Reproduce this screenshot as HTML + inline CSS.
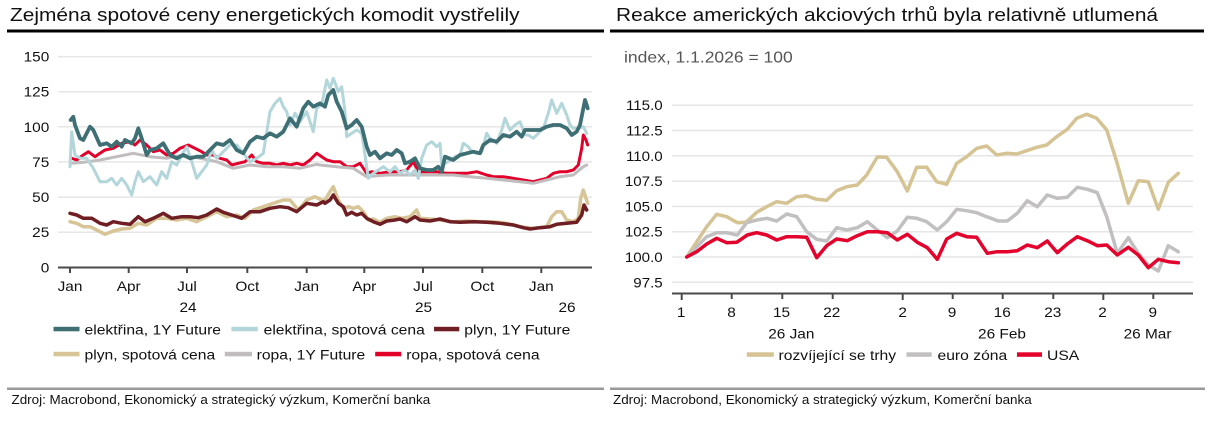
<!DOCTYPE html>
<html>
<head>
<meta charset="utf-8">
<style>
html,body{margin:0;padding:0;background:#fff;}
svg{display:block;}
text{font-family:"Liberation Sans",Arial,sans-serif;fill:#111;}
.t{font-size:14px;}
.lg{font-size:14px;}
.ti{font-size:18.5px;}
.ft{font-size:12.5px;}
.sub{font-size:15.5px;fill:#555;}
.grid{stroke:#e6e6e6;stroke-width:1.5;}
.ax{stroke:#4a4a4a;stroke-width:2;}
polyline{fill:none;stroke-linejoin:round;stroke-linecap:round;}
</style>
</head>
<body>
<svg width="1216" height="428" viewBox="0 0 1216 428" xmlns="http://www.w3.org/2000/svg">
<rect width="1216" height="428" fill="#fff"/>

<!-- ===== LEFT CHART ===== -->
<text class="ti" transform="translate(10,21) scale(1.13,1)">Zejména spotové ceny energetických komodit vystřelily</text>
<rect x="7" y="29.5" width="597" height="3" fill="#000"/>

<!-- grid -->
<line class="grid" x1="58" y1="56.6" x2="592" y2="56.6"/>
<line class="grid" x1="58" y1="91.7" x2="592" y2="91.7"/>
<line class="grid" x1="58" y1="126.8" x2="592" y2="126.8"/>
<line class="grid" x1="58" y1="161.9" x2="592" y2="161.9"/>
<line class="grid" x1="58" y1="197.1" x2="592" y2="197.1"/>
<line class="grid" x1="58" y1="232.2" x2="592" y2="232.2"/>

<!-- y labels -->
<g class="t" text-anchor="end">
<text class="t" transform="translate(49.3,61.6) scale(1.1,1)">150</text>
<text class="t" transform="translate(49.3,96.7) scale(1.1,1)">125</text>
<text class="t" transform="translate(49.3,131.8) scale(1.1,1)">100</text>
<text class="t" transform="translate(49.3,166.9) scale(1.1,1)">75</text>
<text class="t" transform="translate(49.3,202.1) scale(1.1,1)">50</text>
<text class="t" transform="translate(49.3,237.2) scale(1.1,1)">25</text>
<text class="t" transform="translate(49.3,272.3) scale(1.1,1)">0</text>
</g>

<!-- series (drawn bottom to top) -->
<polyline stroke="#e2002a" stroke-width="3" points="71.7,158.3 76.7,160 83.3,155 88.3,151.7 95,156.7 100,153.3 105,150 113.3,148.3 121.7,143.3 130,141.7 135,145 140,140 146.7,145 153.3,151.7 160,150 166.7,155 173.3,153.3 180,148.3 188.3,145 195,148.3 201.7,151.7 206.7,155 213.3,155 220,158.3 226.7,160 231.7,165 238.3,163.3 245,161.7 251.7,155 256.7,161.7 263.3,163.3 270,163.3 276.7,165 283.3,163.3 290,165 296.7,163.3 303.3,165 310,160 316.7,153.3 321.7,156.7 326.7,160 333.3,161.7 340,161.7 346.7,166.7 353.3,166.7 360,163.3 366.7,173.3 371.7,171.7 380,173.3 390,171.7 400,171.7 406.7,170 413.3,161.7 418.3,171.7 426.7,171.7 436.7,171.7 446.7,173.3 456.7,173.3 466.7,173.3 476.7,171.7 486.7,175 493.3,176.7 503.3,176.7 513.3,178.3 523.3,180 533.3,181.7 540,180 546.7,178.3 553.3,173.3 560,171.7 566.7,171.7 573.3,170 578.3,165 581.7,148.3 583.3,135 586,140 587.7,145"/>
<polyline stroke="#c1bcbe" stroke-width="3" points="71.7,163.3 83.3,162.3 100,160 116.7,156.7 133.3,153.3 150,156.7 166.7,158.3 183.3,155 200,158.3 216.7,161.7 233.3,168.3 250,165 266.7,166.7 283.3,166.7 300,168.3 316.7,164.3 320,165 336.7,166.7 353.3,168.3 366.7,176.7 386.7,175 406.7,175 420,175 436.7,175 453.3,175 470,176.7 486.7,178.3 503.3,180 520,181.7 533.3,183.3 546.7,180 560,176.7 573.3,175 583.3,166.7 586.7,165"/>
<polyline stroke="#d7c597" stroke-width="3.5" points="70,221.7 76.7,223.3 83.3,226.7 90,226.7 96.7,230 105,234.3 113.3,231 121.7,229 130,228.3 138.3,223.3 146.7,225 156.7,218.3 166.7,218.3 176.7,220 186.7,218.3 196.7,221.7 206.7,216.7 216.7,211.7 226.7,216.7 236.7,215 245,218.3 253.3,210 263.3,206.7 273.3,203.3 283.3,200 290,200 298.3,210 306.7,200 315,196.7 321.7,200 325,200 330,191.7 333.3,186.7 338.3,200 343.3,208.3 348.3,206.7 353.3,208.3 358.3,206.7 363.3,211.7 368.3,220 373.3,219 380,222.3 386.7,218.3 395,216.7 401.7,218.3 410,216.7 416.7,210 420,218.3 430,219 440,220 453.3,221.7 466.7,221 480,221.7 493.3,221.7 506.7,223.3 520,226.7 533.3,228.3 546.7,226.7 551.7,216.7 556.7,211.7 561.7,211.7 566.7,220 573.3,221.7 578.3,218.3 580.7,198.3 583.3,190 586,198.3 587.7,203.3"/>
<polyline stroke="#6f1f24" stroke-width="3.5" points="70,213.3 76.7,215 83.3,218.3 91.7,218.3 100,223.3 106.7,225 113.3,221.7 121.7,223.3 130,224.3 138.3,216.7 145,221.7 153.3,218.3 163.3,213.3 171.7,218.3 181.7,216.7 190,216.7 198.3,217.7 206.7,215 216.7,209 223.3,212.3 231.7,215 241.7,218.3 250,211.7 260,211.7 270,208.3 280,206.7 288.3,207.7 296.7,211.7 306.7,203.3 316.7,205 323.3,201.7 325,203.3 330,200 333.3,195 338.3,203.3 343.3,206.7 346.7,215 351.7,212.3 356.7,215 361.7,213.3 366.7,218.3 373.3,221.7 380,224.3 386.7,221 393.3,220.3 400,219 406.7,221.7 415,216.7 420,220 430,221 440,219 450,221.7 460,222.3 473.3,221.7 486.7,222.3 500,223.3 513.3,225 523.3,227.7 530,229 540,227.7 550,226.7 556.7,224.3 566.7,223.3 576.7,222.3 581.7,215 584,205 586.7,210"/>
<polyline stroke="#b3d6db" stroke-width="3" points="70,166.7 71.7,131.7 75,155 80,158.3 86.7,158.3 93.3,168.3 100,181.7 106.7,181.7 111.7,178.3 116.7,185 121.7,178.3 126.7,185 131.7,195 135,181.7 138.3,171.7 143.3,181.7 150,176.7 156.7,185 161.7,171.7 166.7,178.3 171.7,161.7 176.7,165 181.7,155 186.7,146.7 191.7,161.7 196.7,178.3 201.7,171.7 206.7,165 211.7,150 216.7,158.3 223.3,151.7 230,145 236.7,145 243.3,153.3 250,161.7 256.7,158.3 263.3,153.3 270,111.7 275,103.3 280,98.3 283.3,106.7 286.7,111.7 290,125 295,113.3 300,121.7 306.7,111.7 313.3,131.7 316.7,108.3 321.7,105 326.7,80 330,88.3 333.3,78.3 338.3,91.7 341.7,86.7 345,111.7 346.7,136.7 351.7,133.3 356.7,130 361.7,133.3 365,155 368.3,178.3 373.3,173.3 378.3,170 383.3,166.7 390,171.7 395,166.7 400,173.3 405,170 410,175 415,170 418.3,178.3 421.7,158.3 426.7,145 431.7,141.7 436.7,146.7 440,143.3 441.7,165 448.3,161.7 455,156.7 460,155 463.3,143.3 468.3,146.7 471.7,151.7 476.7,153.3 481.7,151.7 486.7,133.3 490,138.3 496.7,143.3 501.7,130 505,118.3 510,130 515,125 520,121.7 525,135 528.3,135 533.3,138.3 538.3,133.3 543.3,128.3 548.3,113.3 551.7,100 556.7,113.3 561.7,103.3 566.7,115 570,125 573.3,128.3 578.3,128.3 583.3,126.7 586.7,133.3"/>
<polyline stroke="#3e6f75" stroke-width="3.8" points="70.7,120 73.3,116.7 75,125 80,138.3 83.3,140 90,126.7 93.3,130 100,145 106.7,143.3 111.7,146.7 116.7,141.7 121.7,146.7 125,140 131.7,143.3 135,138.3 138.3,128.3 141.7,138.3 146.7,155 150,150 156.7,148.3 163.3,143.3 170,155 176.7,158.3 183.3,155 190,158.3 196.7,156.7 203.3,156.7 210,150 216.7,143.3 223.3,145 230,140 236.7,150 243.3,153.3 250,141.7 256.7,136.7 263.3,138.3 270,133.3 276.7,136.7 283.3,131.7 290,118.3 296.7,126.7 303.3,108.3 308.3,101.7 313.3,106.7 320,103.3 325,106.7 328.3,95 333.3,90 336.7,101.7 341.7,111.7 346.7,128.3 351.7,125 356.7,120 361.7,126.7 366.7,146.7 370,155 375,151.7 380,158.3 386.7,153.3 391.7,155 396.7,150 401.7,153.3 405,163.3 410,161.7 415,158.3 420,168.3 426.7,170 433.3,170 438.3,166.7 441.7,171.7 445,156.7 453.3,160 460,155 466.7,153.3 473.3,151.7 480,153.3 483.3,145 490,140 496.7,141.7 503.3,135 510,136.7 516.7,131.7 521.7,136.7 525,130 533.3,130 540,130 546.7,126.7 553.3,125 560,125 566.7,128.3 571.7,135 576.7,131.7 580,125 585,100 586.7,105 587.7,108.3"/>

<!-- x axis -->
<line class="ax" x1="58" y1="267.5" x2="592" y2="267.5"/>
<g class="ax">
<line class="ax" x1="70" y1="267.5" x2="70" y2="273"/>
<line class="ax" x1="128.7" y1="267.5" x2="128.7" y2="273"/>
<line class="ax" x1="187" y1="267.5" x2="187" y2="273"/>
<line class="ax" x1="247.3" y1="267.5" x2="247.3" y2="273"/>
<line class="ax" x1="306.7" y1="267.5" x2="306.7" y2="273"/>
<line class="ax" x1="364.3" y1="267.5" x2="364.3" y2="273"/>
<line class="ax" x1="423" y1="267.5" x2="423" y2="273"/>
<line class="ax" x1="482.3" y1="267.5" x2="482.3" y2="273"/>
<line class="ax" x1="541.3" y1="267.5" x2="541.3" y2="273"/>
</g>
<g text-anchor="middle">
<text class="t" transform="translate(70,291) scale(1.1,1)">Jan</text>
<text class="t" transform="translate(128.7,291) scale(1.1,1)">Apr</text>
<text class="t" transform="translate(187,291) scale(1.1,1)">Jul</text>
<text class="t" transform="translate(247.3,291) scale(1.1,1)">Oct</text>
<text class="t" transform="translate(306.7,291) scale(1.1,1)">Jan</text>
<text class="t" transform="translate(364.3,291) scale(1.1,1)">Apr</text>
<text class="t" transform="translate(423,291) scale(1.1,1)">Jul</text>
<text class="t" transform="translate(482.3,291) scale(1.1,1)">Oct</text>
<text class="t" transform="translate(541.3,291) scale(1.1,1)">Jan</text>
<text class="t" transform="translate(188,312) scale(1.1,1)">24</text>
<text class="t" transform="translate(423.5,312) scale(1.1,1)">25</text>
<text class="t" transform="translate(567,312) scale(1.1,1)">26</text>
</g>

<!-- legend -->
<rect x="53.5" y="326.8" width="26" height="4.5" fill="#3e6f75"/>
<text class="lg" transform="translate(84.5,334.5) scale(1.12,1)">elektřina, 1Y Future</text>
<rect x="231.4" y="326.8" width="26.4" height="4.5" fill="#b3d6db"/>
<text class="lg" transform="translate(263.6,334.5) scale(1.12,1)">elektřina, spotová cena</text>
<rect x="434" y="326.8" width="25.3" height="4.5" fill="#6f1f24"/>
<text class="lg" transform="translate(464.3,334.5) scale(1.12,1)">plyn, 1Y Future</text>

<rect x="53.5" y="351.8" width="26" height="4.5" fill="#d7c597"/>
<text class="lg" transform="translate(84.5,359.5) scale(1.12,1)">plyn, spotová cena</text>
<rect x="224.8" y="351.8" width="27.2" height="4.5" fill="#c1bcbe"/>
<text class="lg" transform="translate(256.6,359.5) scale(1.12,1)">ropa, 1Y Future</text>
<rect x="375.2" y="351.8" width="26" height="4.5" fill="#e2002a"/>
<text class="lg" transform="translate(406.2,359.5) scale(1.12,1)">ropa, spotová cena</text>

<rect x="7" y="387.5" width="597" height="2.5" fill="#999"/>
<text class="ft" transform="translate(11.5,404) scale(1.075,1)">Zdroj: Macrobond, Ekonomický a strategický výzkum, Komerční banka</text>

<!-- ===== RIGHT CHART ===== -->
<text class="ti" transform="translate(616,21) scale(1.13,1)">Reakce amerických akciových trhů byla relativně utlumená</text>
<rect x="610" y="29.5" width="594" height="3" fill="#000"/>
<text class="sub" transform="translate(624,62.7) scale(1.13,1)">index, 1.1.2026 = 100</text>

<line class="grid" x1="672" y1="105.2" x2="1193" y2="105.2"/>
<line class="grid" x1="672" y1="130.5" x2="1193" y2="130.5"/>
<line class="grid" x1="672" y1="155.8" x2="1193" y2="155.8"/>
<line class="grid" x1="672" y1="181.1" x2="1193" y2="181.1"/>
<line class="grid" x1="672" y1="206.4" x2="1193" y2="206.4"/>
<line class="grid" x1="672" y1="231.7" x2="1193" y2="231.7"/>
<line class="grid" x1="672" y1="257" x2="1193" y2="257"/>
<line class="grid" x1="672" y1="282.3" x2="1193" y2="282.3"/>

<g text-anchor="end">
<text class="t" transform="translate(662.7,110.2) scale(1.08,1)">115.0</text>
<text class="t" transform="translate(662.7,135.5) scale(1.08,1)">112.5</text>
<text class="t" transform="translate(662.7,160.8) scale(1.08,1)">110.0</text>
<text class="t" transform="translate(662.7,186.1) scale(1.08,1)">107.5</text>
<text class="t" transform="translate(662.7,211.4) scale(1.08,1)">105.0</text>
<text class="t" transform="translate(662.7,236.7) scale(1.08,1)">102.5</text>
<text class="t" transform="translate(662.7,262) scale(1.08,1)">100.0</text>
<text class="t" transform="translate(662.7,287.3) scale(1.08,1)">97.5</text>
</g>

<polyline stroke="#d5c394" stroke-width="3.5" points="686.7,257 706.7,226.7 716.7,214.3 726.7,216.7 737.3,222.7 746,222.3 756.7,212.3 766.7,206.7 776.7,201.7 786.7,203.3 796.7,196.7 806,195.7 816.7,199.3 826.7,200.3 836.7,190.7 846.7,186.7 857.3,185 866.7,175 877.3,157 886.7,157.3 897.3,171.7 907.3,191 916.7,167.3 926.7,167.3 936.7,181.7 946.7,184.3 956.7,163.3 966.7,156.7 976.7,148.3 986.7,146 996.7,155 1006.7,153.3 1016.7,154 1026.7,150.7 1036.7,147.3 1046.7,145 1056.7,136.7 1067.3,129.3 1076.7,118.3 1086.7,114.3 1096.7,118.3 1106.7,130 1116.7,161.7 1128.3,203.3 1138.3,180.7 1148.3,181.7 1158.3,209.3 1168.3,182.3 1178.3,173.3"/>
<polyline stroke="#c2bfc0" stroke-width="3.5" points="686.7,257 706.7,236.7 716.7,232.7 726.7,232.7 737.3,235 746.7,222.7 756.7,220 766.7,218.3 776.7,221 786.7,214 796.7,216.7 806.7,231.7 816.7,239.3 826.7,241 836.7,227.7 846.7,230 857.3,227.7 867.3,221.7 877.3,230 887.3,237.7 897.3,231 907.3,217.3 916.7,218.3 926.7,221.7 937.3,230 946.7,221.7 956.7,209.3 966.7,210.7 976.7,212.7 986.7,216.7 998.3,221 1007.3,221 1017.3,213.3 1027.3,200.7 1037.3,206.7 1047.3,195 1057.3,198.3 1067.3,197.3 1077.3,187.3 1087.3,189.3 1097.3,192.7 1106.7,216.7 1117.3,253.3 1128.3,237.7 1138.3,253.3 1148.3,265 1158.3,271 1168.3,245.7 1178.3,251.7"/>
<polyline stroke="#e3032c" stroke-width="3.5" points="686.7,257 696.7,251.7 706.7,244 716.7,238.3 726.7,242.7 736.7,242.3 747.3,235 756.7,232.7 766.7,235 776.7,240 786.7,236.7 796.7,236.7 806.7,237.3 816.7,257.7 826.7,245.7 836.7,239 847.3,240.7 857.3,235.7 867.3,231.7 877.3,231.7 887.3,232.7 897.3,240 907.3,234.3 917.3,242.3 927.3,247.7 937.3,259.3 946.7,239 956.7,233.3 966.7,236.7 976.7,237.3 987.3,253.3 997.3,251.7 1007.3,251.7 1017.3,250.7 1027.3,245 1037.3,247.7 1047.3,241 1057.3,252.7 1067.3,244 1077.3,236.7 1087.3,240.7 1097.3,245.7 1106.7,245 1117.3,255 1128.3,247.3 1138.3,255 1148.3,267.7 1158.3,259.3 1168.3,261.7 1178.3,262.7"/>

<line class="ax" x1="672" y1="293.5" x2="1193" y2="293.5"/>
<line class="ax" x1="681.7" y1="293.5" x2="681.7" y2="300"/>
<line class="ax" x1="731.7" y1="293.5" x2="731.7" y2="299"/>
<line class="ax" x1="782.3" y1="293.5" x2="782.3" y2="299"/>
<line class="ax" x1="832.7" y1="293.5" x2="832.7" y2="299"/>
<line class="ax" x1="902.7" y1="293.5" x2="902.7" y2="300"/>
<line class="ax" x1="952.7" y1="293.5" x2="952.7" y2="299"/>
<line class="ax" x1="1002.7" y1="293.5" x2="1002.7" y2="299"/>
<line class="ax" x1="1053.3" y1="293.5" x2="1053.3" y2="299"/>
<line class="ax" x1="1103.3" y1="293.5" x2="1103.3" y2="300"/>
<line class="ax" x1="1153.3" y1="293.5" x2="1153.3" y2="299"/>

<g text-anchor="middle">
<text class="t" transform="translate(681.2,317) scale(1.1,1)">1</text>
<text class="t" transform="translate(731.5,317) scale(1.1,1)">8</text>
<text class="t" transform="translate(781.5,317) scale(1.1,1)">15</text>
<text class="t" transform="translate(831.8,317) scale(1.1,1)">22</text>
<text class="t" transform="translate(902.6,317) scale(1.1,1)">2</text>
<text class="t" transform="translate(952,317) scale(1.1,1)">9</text>
<text class="t" transform="translate(1002.2,317) scale(1.1,1)">16</text>
<text class="t" transform="translate(1052.8,317) scale(1.1,1)">23</text>
<text class="t" transform="translate(1102.5,317) scale(1.1,1)">2</text>
<text class="t" transform="translate(1152.8,317) scale(1.1,1)">9</text>
<text class="t" transform="translate(791.3,338.5) scale(1.1,1)">26 Jan</text>
<text class="t" transform="translate(1002,338.5) scale(1.1,1)">26 Feb</text>
<text class="t" transform="translate(1147.5,338.5) scale(1.1,1)">26 Mar</text>
</g>

<rect x="746.8" y="352.3" width="27" height="4.5" fill="#d5c394"/>
<text class="lg" transform="translate(778.5,360) scale(1.12,1)">rozvíjející se trhy</text>
<rect x="906.5" y="352.3" width="25.2" height="4.5" fill="#c2bfc0"/>
<text class="lg" transform="translate(937.5,360) scale(1.12,1)">euro zóna</text>
<rect x="1017" y="352.3" width="25" height="4.5" fill="#e3032c"/>
<text class="lg" transform="translate(1047,360) scale(1.12,1)">USA</text>

<rect x="610" y="387.5" width="595" height="2.5" fill="#999"/>
<text class="ft" transform="translate(613,404) scale(1.075,1)">Zdroj: Macrobond, Ekonomický a strategický výzkum, Komerční banka</text>
</svg>
</body>
</html>
